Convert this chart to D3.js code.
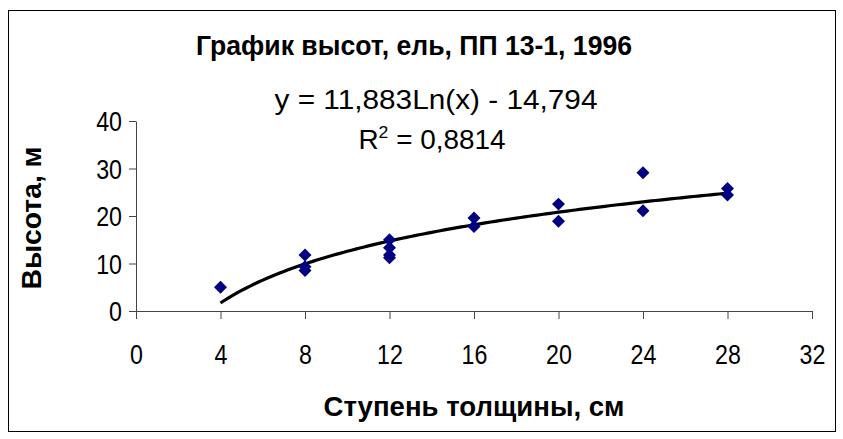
<!DOCTYPE html>
<html>
<head>
<meta charset="utf-8">
<script src="https://cdn.jsdelivr.net/npm/d3@7"></script>
<style>
  html, body { margin: 0; padding: 0; background: #fff; }
  svg { display: block; }
  text { font-family: "Liberation Sans", Arial, sans-serif; fill: #000; }
</style>
</head>
<body>
<div id="chart"></div>
<script>
// ---- data ----
const titleText = "График высот, ель, ПП 13-1, 1996";
const xTitle = "Ступень толщины, см";
const yTitle = "Высота, м";
const equationText = "y = 11,883Ln(x) - 14,794";
const r2Value = "0,8814";
const xTicks = [0, 4, 8, 12, 16, 20, 24, 28, 32];
const yTicks = [0, 10, 20, 30, 40];
const stepX = [4, 8, 8, 8, 12, 12, 12, 12, 16, 16, 20, 20, 24, 24, 28, 28];
const heightY = [5.0, 11.8, 9.3, 8.5, 15.0, 13.3, 11.8, 11.2, 19.6, 17.8, 22.5, 18.9, 29.1, 21.1, 25.8, 24.4];
const trendA = 11.883, trendB = -14.794, trendFrom = 4, trendTo = 28;

// ---- layout ----
const W = 843, H = 439;
const TSX = 0.86; // horizontal squeeze of tick labels
const svg = d3.select("#chart").append("svg").attr("width", W).attr("height", H);

svg.append("rect").attr("x", 8.5).attr("y", 10.5).attr("width", 827).attr("height", 421)
  .attr("fill", "#fff").attr("stroke", "#000").attr("stroke-width", 1);

const x = d3.scaleLinear().domain([0, 32]).range([136, 812]);
const y = d3.scaleLinear().domain([0, 40]).range([311, 121]);

// axes
const gx = svg.append("g").attr("transform", `translate(0,${y(0)})`)
  .call(d3.axisBottom(x).tickValues(xTicks).tickSize(8).tickPadding(0).tickSizeOuter(0));
const gy = svg.append("g").attr("transform", `translate(${x(0)},0)`)
  .call(d3.axisLeft(y).tickValues(yTicks).tickSize(7).tickPadding(0).tickSizeOuter(0));
[gx, gy].forEach(g => {
  g.select(".domain").attr("stroke", "#444");
  g.selectAll(".tick line").attr("stroke", "#444");
  g.selectAll(".tick text").attr("font-size", 27).attr("font-family", "Liberation Sans, Arial, sans-serif").attr("fill", "#000");
});
gx.selectAll(".tick text").attr("y", null).attr("dy", null)
  .attr("transform", `translate(0,53) scale(${TSX},1)`);
gy.selectAll(".tick text").attr("x", null).attr("dy", "0.36em")
  .attr("transform", `translate(-14,0) scale(${TSX},1)`);

// trend line
const trendPts = d3.range(trendFrom, trendTo + 0.001, 0.2).map(v => [v, trendA * Math.log(v) + trendB]);
svg.append("path").datum(trendPts)
  .attr("fill", "none").attr("stroke", "#000").attr("stroke-width", 3.2)
  .attr("d", d3.line().x(d => x(d[0])).y(d => y(d[1])));

// points
const sym = d3.symbol().type(d3.symbolSquare).size(84);
svg.append("g").selectAll("path").data(stepX.map((v, i) => [v, heightY[i]])).join("path")
  .attr("d", sym)
  .attr("transform", d => `translate(${x(d[0])},${y(d[1])}) rotate(45)`)
  .attr("fill", "#000080");

// texts
function label(t, cx, cy, size, bold, len, rot) {
  const g = svg.append("g").attr("transform", `translate(${cx},${cy})` + (rot ? ` rotate(${rot})` : ""));
  const el = g.append("text").attr("text-anchor", "middle").attr("font-size", size)
    .attr("font-weight", bold ? "bold" : "normal").text(t);
  if (len) el.attr("textLength", len).attr("lengthAdjust", "spacingAndGlyphs");
  return el;
}
label(titleText, 414, 55, 28, true, 436);
label(equationText, 436, 109, 27, false, 323);
// R^2 line
const r2 = svg.append("text").attr("text-anchor", "middle").attr("x", 432).attr("y", 149)
  .attr("font-size", 27).attr("textLength", 147).attr("lengthAdjust", "spacingAndGlyphs");
r2.append("tspan").text("R");
r2.append("tspan").attr("dy", -11).attr("font-size", 17).text("2");
r2.append("tspan").attr("dy", 11).text(" = " + r2Value);
label(xTitle, 474, 416, 28, true, 301);
label(yTitle, 41, 218, 28, true, 143, -90);
</script>
</body>
</html>
